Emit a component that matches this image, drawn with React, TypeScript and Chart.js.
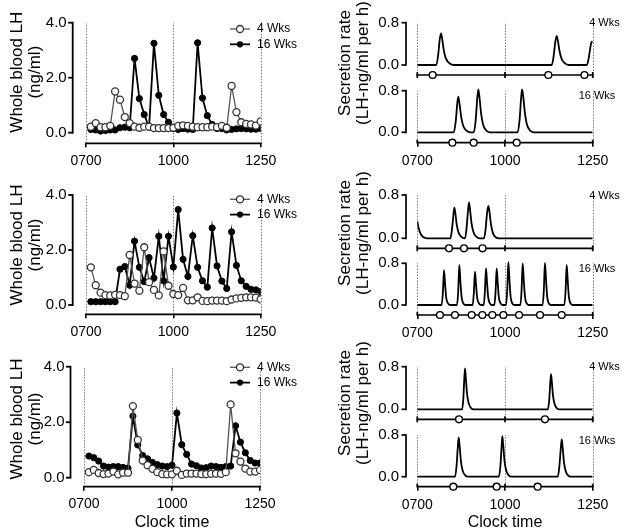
import React, { useEffect, useRef } from 'react';
import { Chart, registerables } from 'chart.js';

Chart.register(...registerables);
Chart.defaults.font.family = '"Liberation Sans", Arial, Helvetica, sans-serif';
Chart.defaults.color = '#000';

// ---------------- data ----------------
const TIME_TICKS = [0, 180, 360];
const TIME_LABELS = ['0700', '1000', '1250'];
const SAMPLE_TIMES = [10, 20, 30, 40, 50, 60, 70, 80, 90, 100, 110, 120, 130, 140, 150, 160, 170, 180,
  190, 200, 210, 220, 230, 240, 250, 260, 270, 280, 290, 300, 310, 320, 330, 340, 350, 360];
const LH_TICKS = [0, 2, 4];
const RATE_TICKS = [0, 0.8];
const SERIES_NAMES = ['4 Wks', '16 Wks'];

const A_LH_4WK = [0.22, 0.35, 0.20, 0.20, 0.25, 1.50, 1.20, 0.57, 0.35, 0.22, 0.18, 0.22, 0.22, 0.17, 0.17, 0.17, 0.17, 0.18,
  0.25, 0.27, 0.25, 0.22, 0.20, 0.20, 0.20, 0.22, 0.20, 0.25, 0.18, 1.70, 0.75, 0.38, 0.32, 0.30, 0.26, 0.41];
const A_LH_16WK = [0.12, 0.10, 0.06, 0.08, 0.10, 0.10, 0.18, 0.20, 0.18, 2.70, 1.24, 0.66, 0.20, 3.25, 1.36, 0.66, 0.38, 0.15,
  0.12, 0.15, 0.13, 0.12, 3.27, 1.26, 0.62, 0.30, 0.15, 0.15, 0.10, 0.12, 0.14, 0.15, 0.14, 0.13, 0.13, 0.15];
const B_LH_4WK = [1.37, 0.72, 0.45, 0.36, 0.35, 0.37, 0.36, 0.32, 1.82, 0.78, 0.52, 2.10, 0.83, 0.55, 0.35, 1.95, 0.70, 0.40,
  0.36, 0.62, 0.17, 0.17, 0.28, 0.15, 0.14, 0.16, 0.16, 0.16, 0.14, 0.20, 0.24, 0.26, 0.28, 0.28, 0.27, 0.21];
const B_LH_16WK = [0.12, 0.12, 0.12, 0.12, 0.12, 0.12, 1.30, 1.40, 0.72, 2.32, 1.37, 0.85, 1.72, 0.98, 2.50, 0.88, 2.50, 1.38,
  3.47, 1.66, 1.04, 2.52, 1.37, 0.88, 0.65, 2.80, 1.42, 0.87, 0.60, 2.66, 1.44, 0.88, 0.68, 0.57, 0.55, 0.49];
const C_LH_4WK = [0.20, 0.28, 0.17, 0.13, 0.15, 0.22, 0.12, 0.18, 0.18, 2.58, 1.36, 0.62, 0.45, 0.32, 0.20, 0.13, 0.12, 0.12,
  0.25, 0.10, 0.15, 0.15, 0.15, 0.13, 0.13, 0.14, 0.15, 0.14, 0.20, 2.64, 0.88, 0.58, 0.33, 0.22, 0.22, 0.28];
const C_LH_16WK = [0.78, 0.72, 0.60, 0.42, 0.38, 0.40, 0.40, 0.37, 0.34, 2.22, 1.18, 0.80, 0.68, 0.55, 0.47, 0.42, 0.40, 0.45,
  2.33, 1.19, 0.84, 0.49, 0.43, 0.35, 0.36, 0.42, 0.40, 0.37, 0.40, 0.42, 1.87, 1.28, 0.90, 0.62, 0.53, 0.53];

// secretion-rate curves: [minutes after 0700, LH-ng/ml per h]
const A_RATE_4WK: [number, number][] = [[0, 0], [39, 0], [43, 0.2], [46, 0.48], [48.6, 0.6], [51, 0.5], [54, 0.3], [58, 0.14], [64, 0.05], [74, 0],
  [276, 0], [280, 0.18], [283, 0.42], [286, 0.55], [288.5, 0.46], [292, 0.26], [296, 0.12], [302, 0.04], [311, 0],
  [348, 0], [352, 0.14], [355, 0.32], [358, 0.44], [360, 0.42]];
const A_RATE_16WK: [number, number][] = [[0, 0], [75, 0], [79, 0.22], [82, 0.55], [84.2, 0.685], [86.5, 0.56], [90, 0.3], [94, 0.13], [100, 0.04], [108, 0],
  [116, 0], [120, 0.25], [123, 0.65], [125.3, 0.826], [127.5, 0.68], [131, 0.36], [135, 0.15], [141, 0.04], [149, 0],
  [206, 0], [210, 0.25], [213, 0.65], [215, 0.826], [217.5, 0.68], [221, 0.36], [225, 0.15], [231, 0.04], [239, 0], [360, 0]];
const B_RATE_4WK: [number, number][] = [[0, 0.31], [3, 0.18], [6, 0.1], [10, 0.04], [15, 0.01], [20, 0],
  [68, 0], [71, 0.15], [74, 0.42], [76, 0.566], [78, 0.47], [81, 0.25], [85, 0.1], [90, 0.03], [97, 0],
  [98, 0], [101, 0.18], [104, 0.5], [106, 0.665], [108, 0.55], [111, 0.3], [115, 0.12], [121, 0.03], [128, 0],
  [137, 0], [140, 0.15], [143, 0.45], [145.8, 0.597], [148, 0.5], [151, 0.27], [155, 0.1], [161, 0.02], [168, 0], [360, 0]];
const B_RATE_16WK: [number, number][] = [[0, 0],
  [50, 0], [52.5, 0.24], [54.8, 0.67], [57, 0.4], [59.5, 0.13], [63, 0.03], [67, 0],
  [81.5, 0], [84, 0.27], [86.2, 0.77], [88.4, 0.46], [91, 0.15], [94.5, 0.03], [98.5, 0],
  [113.5, 0], [116, 0.22], [118.4, 0.64], [120.6, 0.38], [123, 0.13], [126.5, 0.03], [130.5, 0],
  [136.3, 0], [138.7, 0.25], [141, 0.7], [143.2, 0.42], [145.6, 0.14], [149, 0.03], [153, 0],
  [158.2, 0], [160.6, 0.25], [162.9, 0.7], [165.1, 0.42], [167.5, 0.14], [171, 0.03], [175, 0],
  [182.2, 0], [184.6, 0.29], [186.9, 0.82], [189.1, 0.49], [191.5, 0.16], [195, 0.03], [199, 0],
  [211.6, 0], [214, 0.28], [216.3, 0.8], [218.5, 0.48], [221, 0.16], [224.5, 0.03], [228.5, 0],
  [257.3, 0], [259.7, 0.28], [262, 0.81], [264.2, 0.49], [266.6, 0.16], [270, 0.03], [274, 0],
  [301.9, 0], [304.3, 0.27], [306.6, 0.77], [308.8, 0.46], [311.2, 0.15], [314.6, 0.03], [318.6, 0], [360, 0]];
const C_RATE_4WK: [number, number][] = [[0, 0], [92, 0], [94.5, 0.2], [96.3, 0.55], [97.9, 0.77], [99.5, 0.6], [102, 0.3], [105, 0.13], [109, 0.04], [115, 0],
  [268, 0], [270.8, 0.18], [272.8, 0.48], [274.5, 0.66], [276.1, 0.52], [278.5, 0.26], [281.5, 0.11], [285.5, 0.03], [291, 0], [360, 0]];
const C_RATE_16WK: [number, number][] = [[0, 0], [77.5, 0], [80.5, 0.2], [83, 0.55], [84.9, 0.755], [86.8, 0.6], [89.5, 0.3], [93, 0.12], [98, 0.03], [105, 0],
  [167.5, 0], [170.5, 0.2], [173, 0.57], [174.5, 0.78], [176.3, 0.62], [179, 0.3], [182.5, 0.12], [187, 0.03], [194, 0],
  [288.5, 0], [291.5, 0.19], [294.3, 0.52], [296.4, 0.717], [298.3, 0.57], [301, 0.28], [304.5, 0.11], [309, 0.03], [315, 0], [360, 0]];

// detected pulse onsets (minutes after 0700)
const A_PULSE_4WK = [31.5, 269, 343];
const A_PULSE_16WK = [72, 115.7, 204];
const B_PULSE_4WK = [65, 95.8, 134];
const B_PULSE_16WK = [46.5, 77.3, 111.6, 133.5, 154, 176.6, 208.8, 251.9, 296.4];
const C_PULSE_4WK = [85.6, 262];
const C_PULSE_16WK = [73.9, 162.9, 247];

// ---------------- layout (page pixels) ----------------
const TOP_ROOM = 34; // canvas space above chart area (>= y-axis label padding)
const LEFT_W = 320;
const LEFT_PANELS = [
  { chartTop: 1, canvasBottom: 176, chartBottom: 143.3, yLine: 72.7, x0: 86, x360: 260.7, y4: 22.7, y0: 132.7, legendY: 29, lh4: A_LH_4WK, lh16: A_LH_16WK, xTitle: false },
  { chartTop: 175.7, canvasBottom: 347, chartBottom: 314.3, yLine: 72.7, x0: 86, x360: 260.7, y4: 195, y0: 305, legendY: 199.3, lh4: B_LH_4WK, lh16: B_LH_16WK, xTitle: false },
  { chartTop: 351.3, canvasBottom: 531, chartBottom: 486.7, yLine: 70.5, x0: 84, x360: 260, y4: 366.7, y0: 477.7, legendY: 367.3, lh4: C_LH_4WK, lh16: C_LH_16WK, xTitle: true },
];
const RIGHT_LEFT = 320;
const RIGHT_W = 305;
const RIGHT_PANELS = [
  { chartTop: -16.7, canvasBottom: 176, chartBottom: 142.7, topY08: 22.7, topY0: 65, topPulse: 75, botY08: 90.7, botY0: 132.3, r4: A_RATE_4WK, r16: A_RATE_16WK, p4: A_PULSE_4WK, p16: A_PULSE_16WK, xTitle: false },
  { chartTop: 151, canvasBottom: 348, chartBottom: 315, topY08: 195, topY0: 238.3, topPulse: 248.3, botY08: 263.3, botY0: 305, r4: B_RATE_4WK, r16: B_RATE_16WK, p4: B_PULSE_4WK, p16: B_PULSE_16WK, xTitle: false },
  { chartTop: 319.3, canvasBottom: 531, chartBottom: 486.7, topY08: 366.7, topY0: 409.3, topPulse: 419.3, botY08: 435, botY0: 476.7, r4: C_RATE_4WK, r16: C_RATE_16WK, p4: C_PULSE_4WK, p16: C_PULSE_16WK, xTitle: true },
];
const R_YLINE = 406;
const R_X0 = 417.3;
const R_X360 = 592.7;

const DOT_COLOR = '#7a7a7a';
const OPEN_LINE = '#555';
const FONT = '"Liberation Sans", Arial, sans-serif';

function canvasTopOf(g: any) {
  return Math.floor(g.chartTop - TOP_ROOM);
}

function xScaleOptions(height: number, showTitle: boolean, pad: number) {
  return {
    type: 'linear',
    position: 'bottom',
    min: 0,
    max: 360,
    bounds: 'data',
    afterBuildTicks: (s: any) => { s.ticks = TIME_TICKS.map((v) => ({ value: v })); },
    afterFit: (s: any) => { s.height = height; },
    ticks: { callback: (_v: any, i: number) => TIME_LABELS[i], font: { size: 14 }, padding: pad, maxRotation: 0, autoSkip: false, color: '#000' },
    grid: { display: true, drawOnChartArea: false, drawTicks: true, tickLength: 4, color: '#000', lineWidth: 1.6 },
    border: { display: false },
    title: { display: showTitle, text: 'Clock time', font: { size: 16, lineHeight: 1 }, padding: { top: 0, bottom: 0 }, color: '#000' },
  };
}

function leftConfig(g: any) {
  const canvasTop = canvasTopOf(g);
  const ppu = (g.y0 - g.y4) / 4;
  const yMin = -(g.chartBottom - g.y0) / ppu;
  const yMax = 4 + (g.y4 - g.chartTop) / ppu;
  const pts = (vals: number[]) => SAMPLE_TIMES.map((t, i) => ({ x: t, y: vals[i] }));
  const decor = {
    id: 'leftDecor',
    beforeDatasetsDraw(chart: any) {
      const { ctx, chartArea, scales } = chart;
      const xs = scales.x, ys = scales.y;
      ctx.save();
      ctx.strokeStyle = DOT_COLOR; ctx.lineWidth = 1; ctx.setLineDash([1.5, 1.5]);
      for (const t of TIME_TICKS) {
        const px = Math.round(xs.getPixelForValue(t)) + 0.5;
        ctx.beginPath(); ctx.moveTo(px, chartArea.bottom); ctx.lineTo(px, ys.getPixelForValue(4)); ctx.stroke();
      }
      ctx.setLineDash([]);
      ctx.strokeStyle = '#000'; ctx.lineWidth = 1.8;
      const yl = g.yLine;
      ctx.beginPath(); ctx.moveTo(yl, ys.getPixelForValue(0) + 0.9); ctx.lineTo(yl, ys.getPixelForValue(4) - 0.9); ctx.stroke();
      for (const v of LH_TICKS) {
        const py = ys.getPixelForValue(v);
        ctx.beginPath(); ctx.moveTo(yl - 4.5, py); ctx.lineTo(yl, py); ctx.stroke();
      }
      ctx.beginPath(); ctx.moveTo(xs.getPixelForValue(0) - 0.9, chartArea.bottom); ctx.lineTo(xs.getPixelForValue(360) + 0.9, chartArea.bottom); ctx.stroke();
      ctx.restore();
    },
    afterDraw(chart: any) {
      const ctx = chart.ctx;
      ctx.save();
      const rows = [
        { y: g.legendY - canvasTop, name: SERIES_NAMES[0], open: true },
        { y: g.legendY + 15.3 - canvasTop, name: SERIES_NAMES[1], open: false },
      ];
      for (const r of rows) {
        ctx.strokeStyle = r.open ? OPEN_LINE : '#000';
        ctx.lineWidth = r.open ? 1.3 : 1.8;
        ctx.beginPath(); ctx.moveTo(230, r.y); ctx.lineTo(250, r.y); ctx.stroke();
        ctx.beginPath(); ctx.arc(240, r.y, r.open ? 3.5 : 3.1, 0, Math.PI * 2);
        if (r.open) { ctx.fillStyle = '#fff'; ctx.fill(); ctx.strokeStyle = '#333'; ctx.lineWidth = 1.3; ctx.stroke(); }
        else { ctx.fillStyle = '#000'; ctx.fill(); }
        ctx.fillStyle = '#000'; ctx.font = '12px ' + FONT;
        ctx.textBaseline = 'middle'; ctx.textAlign = 'left';
        ctx.fillText(r.name, 257, r.y);
      }
      ctx.restore();
    },
  };
  return {
    type: 'line',
    data: {
      datasets: [
        { label: SERIES_NAMES[1], data: pts(g.lh16), borderColor: '#000', backgroundColor: '#000', borderWidth: 1.8,
          pointRadius: 3.1, pointBorderWidth: 1, pointBackgroundColor: '#000', pointBorderColor: '#000', order: 2, tension: 0 },
        { label: SERIES_NAMES[0], data: pts(g.lh4), borderColor: OPEN_LINE, backgroundColor: '#fff', borderWidth: 1.3,
          pointRadius: 3.5, pointBorderWidth: 1.3, pointBackgroundColor: '#fff', pointBorderColor: '#333', order: 1, tension: 0 },
      ],
    },
    options: {
      responsive: false,
      animation: false,
      devicePixelRatio: 1,
      events: [],
      layout: { autoPadding: false, padding: { left: 0, top: g.chartTop - canvasTop, right: LEFT_W - g.x360, bottom: 0 } },
      plugins: { legend: { display: false }, tooltip: { enabled: false } },
      scales: {
        x: xScaleOptions(g.canvasBottom - g.chartBottom, g.xTitle, 5),
        y: {
          type: 'linear', position: 'left', min: yMin, max: yMax, bounds: 'data',
          afterBuildTicks: (s: any) => { s.ticks = LH_TICKS.map((v) => ({ value: v })); },
          afterFit: (s: any) => { s.width = g.x0; },
          ticks: { callback: (v: any) => Number(v).toFixed(1), font: { size: 15 }, padding: g.x0 - g.yLine + 6, color: '#000' },
          grid: { display: false, drawTicks: false },
          border: { display: false },
          title: { display: true, text: ['Whole blood LH', '(ng/ml)'], font: { size: 17, lineHeight: 1.1 }, padding: { top: 7.6, bottom: 0 }, color: '#000' },
        },
      },
    },
    plugins: [decor],
  };
}

function rightConfig(g: any) {
  const canvasTop = canvasTopOf(g);
  const ppuT = (g.topY0 - g.topY08) / 0.8;
  const ppuB = (g.botY0 - g.botY08) / 0.8;
  const tMin = -(g.chartBottom - g.topY0) / ppuT;
  const tMax = 0.8 + (g.topY08 - g.chartTop) / ppuT;
  const bMin = -(g.chartBottom - g.botY0) / ppuB;
  const bMax = 0.8 + (g.botY08 - g.chartTop) / ppuB;
  const topLevel = -(g.topPulse - g.topY0) / ppuT;
  // where the upper panel's 0 and 0.8 sit on the shared (lower) value axis
  const upperTickPositions = RATE_TICKS.map((v) => (g.botY0 - (g.topY0 - v * ppuT)) / ppuB);
  const yl = R_YLINE - RIGHT_LEFT;
  const curve = (arr: [number, number][]) => arr.map(([x, y]) => ({ x, y }));
  const decor = {
    id: 'rightDecor',
    beforeDatasetsDraw(chart: any) {
      const { ctx, chartArea, scales } = chart;
      const xs = scales.x, yt = scales.yTop, yb = scales.yBot;
      const topLineY = yt.getPixelForValue(topLevel);
      const botLineY = chartArea.bottom;
      ctx.save();
      ctx.strokeStyle = DOT_COLOR; ctx.lineWidth = 1; ctx.setLineDash([1.5, 1.5]);
      for (const t of TIME_TICKS) {
        const px = Math.round(xs.getPixelForValue(t)) + 0.5;
        ctx.beginPath(); ctx.moveTo(px, topLineY + 2); ctx.lineTo(px, yt.getPixelForValue(0.8)); ctx.stroke();
        ctx.beginPath(); ctx.moveTo(px, botLineY); ctx.lineTo(px, yb.getPixelForValue(0.8)); ctx.stroke();
      }
      ctx.setLineDash([]);
      ctx.strokeStyle = '#000'; ctx.lineWidth = 1.7;
      for (const ly of [topLineY, botLineY]) {
        ctx.beginPath(); ctx.moveTo(xs.getPixelForValue(0) - 0.8, ly); ctx.lineTo(xs.getPixelForValue(360) + 0.8, ly); ctx.stroke();
        for (const t of TIME_TICKS) {
          const px = xs.getPixelForValue(t);
          ctx.beginPath(); ctx.moveTo(px, ly - 3); ctx.lineTo(px, ly + (ly === topLineY ? 3 : 0)); ctx.stroke();
        }
      }
      for (const ys of [yt, yb]) {
        const p0 = ys.getPixelForValue(0), p8 = ys.getPixelForValue(0.8);
        ctx.beginPath(); ctx.moveTo(yl, p0 + 0.85); ctx.lineTo(yl, p8 - 0.85); ctx.stroke();
        for (const p of [p0, p8]) { ctx.beginPath(); ctx.moveTo(yl - 4.5, p); ctx.lineTo(yl, p); ctx.stroke(); }
      }
      ctx.restore();
    },
    afterDraw(chart: any) {
      const { ctx, chartArea, scales } = chart;
      ctx.save();
      ctx.fillStyle = '#000'; ctx.font = '11px ' + FONT;
      ctx.textBaseline = 'middle'; ctx.textAlign = 'left';
      ctx.fillText(SERIES_NAMES[0], chartArea.right - 3.5, scales.yTop.getPixelForValue(0.8) + 0.5);
      ctx.fillText(SERIES_NAMES[1], chartArea.right - 14, scales.yBot.getPixelForValue(0.8) + 5.5);
      ctx.restore();
    },
  };
  const pulseStyle = { showLine: false, pointRadius: 3.4, pointBorderWidth: 1.4, pointBackgroundColor: '#fff', pointBorderColor: '#000', clip: false, order: 0 };
  const curveStyle = { borderColor: '#000', borderWidth: 1.8, pointRadius: 0, cubicInterpolationMode: 'monotone', fill: false, order: 1 };
  return {
    type: 'line',
    data: {
      datasets: [
        { label: SERIES_NAMES[0], data: curve(g.r4), yAxisID: 'yTop', ...curveStyle },
        { label: SERIES_NAMES[1], data: curve(g.r16), yAxisID: 'yBot', ...curveStyle },
        { label: SERIES_NAMES[0] + ' pulses', data: g.p4.map((t: number) => ({ x: t, y: topLevel })), yAxisID: 'yTop', ...pulseStyle },
        { label: SERIES_NAMES[1] + ' pulses', data: g.p16.map((t: number) => ({ x: t, y: bMin })), yAxisID: 'yBot', ...pulseStyle },
      ],
    },
    options: {
      responsive: false,
      animation: false,
      devicePixelRatio: 1,
      events: [],
      layout: { autoPadding: false, padding: { left: 0, top: g.chartTop - canvasTop, right: RIGHT_W - (R_X360 - RIGHT_LEFT), bottom: 0 } },
      plugins: { legend: { display: false }, tooltip: { enabled: false } },
      scales: {
        x: xScaleOptions(g.canvasBottom - g.chartBottom, g.xTitle, 6),
        yTop: {
          type: 'linear', position: 'left', display: false, weight: 0, min: tMin, max: tMax, bounds: 'data',
          afterFit: (s: any) => { s.width = 0; },
        },
        yBot: {
          type: 'linear', position: 'left', weight: 1, min: bMin, max: bMax, bounds: 'data',
          afterBuildTicks: (s: any) => { s.ticks = RATE_TICKS.concat(upperTickPositions).map((v) => ({ value: v })); },
          afterFit: (s: any) => { s.width = R_X0 - RIGHT_LEFT; },
          ticks: { callback: (_v: any, i: number) => RATE_TICKS[i % 2].toFixed(1), font: { size: 15 }, padding: R_X0 - R_YLINE + 7, color: '#000', autoSkip: false },
          grid: { display: false, drawTicks: false },
          border: { display: false },
          title: { display: true, text: ['Secretion rate', '(LH-ng/ml per h)'], font: { size: 17, lineHeight: 1.1 }, padding: { top: 15.6, bottom: 0 }, color: '#000' },
        },
      },
    },
    plugins: [decor],
  };
}

type Rect = { left: number; top: number; width: number; height: number };

function ChartCanvas({ rect, build }: { rect: Rect; build: () => any }) {
  const ref = useRef<HTMLCanvasElement | null>(null);
  useEffect(() => {
    if (!ref.current) return;
    const chart = new Chart(ref.current, build());
    return () => chart.destroy();
  }, []);
  return (
    <canvas
      ref={ref}
      width={rect.width}
      height={rect.height}
      style={{ position: 'absolute', left: rect.left, top: rect.top, width: rect.width, height: rect.height, display: 'block' }}
    />
  );
}

export default function App() {
  return (
    <div style={{ position: 'fixed', left: 0, top: 0, width: 625, height: 531, overflow: 'hidden', background: '#fff' }}>
      {LEFT_PANELS.map((g, i) => {
        const top = canvasTopOf(g);
        return <ChartCanvas key={'l' + i} rect={{ left: 0, top, width: LEFT_W, height: g.canvasBottom - top }} build={() => leftConfig(g)} />;
      })}
      {RIGHT_PANELS.map((g, i) => {
        const top = canvasTopOf(g);
        return <ChartCanvas key={'r' + i} rect={{ left: RIGHT_LEFT, top, width: RIGHT_W, height: g.canvasBottom - top }} build={() => rightConfig(g)} />;
      })}
    </div>
  );
}
